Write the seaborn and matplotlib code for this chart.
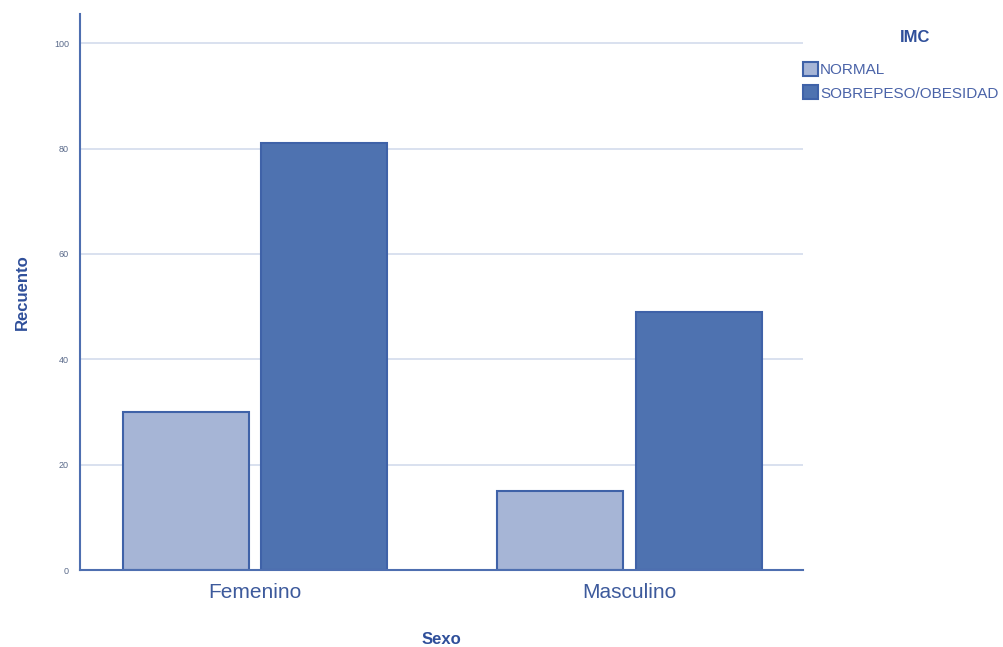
import pandas as pd
import seaborn as sns
import matplotlib.pyplot as plt

# data
sexo = ["Femenino", "Femenino", "Masculino", "Masculino"]
imc = ["NORMAL", "SOBREPESO/OBESIDAD", "NORMAL", "SOBREPESO/OBESIDAD"]
recuento = [30, 81, 15, 49]
yticks = [0, 20, 40, 60, 80, 100]

df = pd.DataFrame({"Sexo": sexo, "IMC": imc, "Recuento": recuento})

sns.set_style("white")
plt.rcParams['font.family'] = ['Liberation Sans', 'DejaVu Sans']

blue = "#2f4f9a"
palette = {"NORMAL": "#a6b5d6", "SOBREPESO/OBESIDAD": "#4e72b0"}

fig = plt.figure(figsize=(10.04, 6.47), dpi=100)
ax = fig.add_axes([0.0797, 0.119, 0.7201, 0.859])

sns.barplot(data=df, x="Sexo", y="Recuento", hue="IMC", palette=palette,
            width=0.74, gap=0.09, edgecolor="#3f62a8", linewidth=1.5,
            saturation=1, ax=ax, legend=True)

ax.set_xlim(-0.467, 1.463)
ax.set_ylim(0, 105.5)
ax.set_yticks(yticks)
ax.set_yticklabels([str(t) for t in yticks], fontsize=6.5, color="#5a6a8a")
ax.yaxis.grid(True, color="#d3dcec", linewidth=1.2)
ax.set_axisbelow(True)
ax.tick_params(axis="both", length=0, pad=8)
ax.tick_params(axis="x", labelsize=15, labelcolor="#3d5a9c", pad=9)

for s in ["top", "right"]:
    ax.spines[s].set_visible(False)
for s in ["left", "bottom"]:
    ax.spines[s].set_color("#4e6fb0")
    ax.spines[s].set_linewidth(1.5)

ax.set_xlabel("Sexo", fontsize=12, fontweight="bold", color=blue, labelpad=22)
ax.set_ylabel("Recuento", fontsize=12, fontweight="bold", color=blue, labelpad=17)

handles, labels = ax.get_legend_handles_labels()
ax.get_legend().remove()
fig.text(915 / 1004, 1 - 37 / 647, "IMC", ha="center", va="center",
         fontsize=12, fontweight="bold", color=blue)
leg = fig.legend(handles, labels, loc="upper left",
                 bbox_to_anchor=(0.8, 1 - 62 / 647), frameon=False,
                 fontsize=11, handlelength=1.0, handleheight=1.0,
                 handletextpad=0.1, labelspacing=0.55, borderaxespad=0,
                 borderpad=0)
for t in leg.get_texts():
    t.set_color("#4a63a8")

fig.savefig("out.png", dpi=100)
